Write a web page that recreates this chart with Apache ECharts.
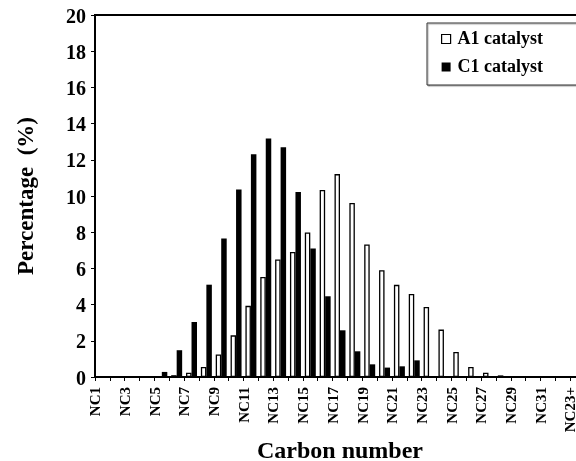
<!DOCTYPE html>
<html>
<head>
<meta charset="utf-8">
<script src="https://cdn.jsdelivr.net/npm/echarts@6/dist/echarts.min.js"></script>
<style>
html,body{margin:0;padding:0;background:#fff;overflow:hidden;}
#chart{width:600px;height:461px;}
</style>
</head>
<body>
<div id="chart"></div>
<script>
const categories = ['NC1','NC2','NC3','NC4','NC5','NC6','NC7','NC8','NC9','NC10','NC11','NC12','NC13','NC14','NC15','NC16','NC17','NC18','NC19','NC20','NC21','NC22','NC23','NC24','NC25','NC26','NC27','NC28','NC29','NC30','NC31','NC32','NC23+'];
const a1Catalyst = [0,0,0,0,0,0.1,0.24,0.55,1.24,2.3,3.93,5.53,6.49,6.91,7.99,10.33,11.21,9.62,7.32,5.9,5.09,4.59,3.87,2.62,1.38,0.55,0.24,0.09,0,0,0,0,0];
const c1Catalyst = [0,0,0,0,0.28,1.48,3.04,5.1,7.65,10.36,12.3,13.18,12.69,10.22,7.1,4.46,2.58,1.42,0.7,0.52,0.59,0.92,0,0,0,0,0,0,0,0,0,0,0];
const seriesNames = ['A1 catalyst','C1 catalyst'];
const xTitle = 'Carbon number';
const yTitle = 'Percentage  (%)';

const FONT = "'Liberation Serif', 'Times New Roman', serif";
const chart = echarts.init(document.getElementById('chart'), null, {renderer:'canvas'});
chart.setOption({
  animation:false,
  backgroundColor:'#fff',
  grid:{left:95, right:15, top:15, bottom:84, containLabel:false, outerBoundsMode:'none',
        show:true, borderColor:'#000', borderWidth:2, backgroundColor:'transparent'},
  legend:{
    data:[
      {name:seriesNames[0], icon:'rect', itemStyle:{color:'#fff', borderColor:'#000', borderWidth:1.2}},
      {name:seriesNames[1], icon:'rect', itemStyle:{color:'#000'}}
    ],
    orient:'vertical', left:427, top:23,
    padding:[7,45,9,14], itemGap:10,
    itemWidth:9, itemHeight:9,
    borderColor:'#333', borderWidth:1,
    shadowColor:'rgba(0,0,0,0.35)', shadowOffsetX:1, shadowOffsetY:1, shadowBlur:1,
    backgroundColor:'#fff',
    textStyle:{fontFamily:FONT, fontWeight:'bold', fontSize:18, color:'#000', padding:[0,0,0,2]}
  },
  xAxis:{
    type:'category', data:categories,
    axisLine:{lineStyle:{color:'#000', width:2}},
    axisTick:{show:true, interval:0, length:4, lineStyle:{color:'#000', width:1}},
    axisLabel:{interval:1, rotate:90, margin:10, verticalAlign:'bottom', lineHeight:12,
               fontFamily:FONT, fontWeight:'bold', fontSize:15, color:'#000'},
    name:xTitle, nameLocation:'middle', nameGap:63,
    nameTextStyle:{fontFamily:FONT, fontWeight:'bold', fontSize:24, color:'#000'}
  },
  yAxis:{
    type:'value', min:0, max:20, interval:2,
    splitLine:{show:false},
    axisLine:{show:true, lineStyle:{color:'#000', width:2}},
    axisTick:{show:true, length:4, lineStyle:{color:'#000', width:1}},
    axisLabel:{margin:9, verticalAlign:'top', lineHeight:5,
               fontFamily:FONT, fontWeight:'bold', fontSize:20, color:'#000'},
    name:yTitle, nameLocation:'middle', nameGap:56, nameRotate:90,
    nameTextStyle:{fontFamily:FONT, fontWeight:'bold', fontSize:23, color:'#000'}
  },
  series:[
    {name:seriesNames[0], type:'bar', data:a1Catalyst, barGap:'0%', barCategoryGap:'26%',
     itemStyle:{color:'#fff', borderColor:'#000', borderWidth:1.3}},
    {name:seriesNames[1], type:'bar', data:c1Catalyst, barGap:'0%', barCategoryGap:'26%',
     itemStyle:{color:'#000'}}
  ]
});
</script>
</body>
</html>
